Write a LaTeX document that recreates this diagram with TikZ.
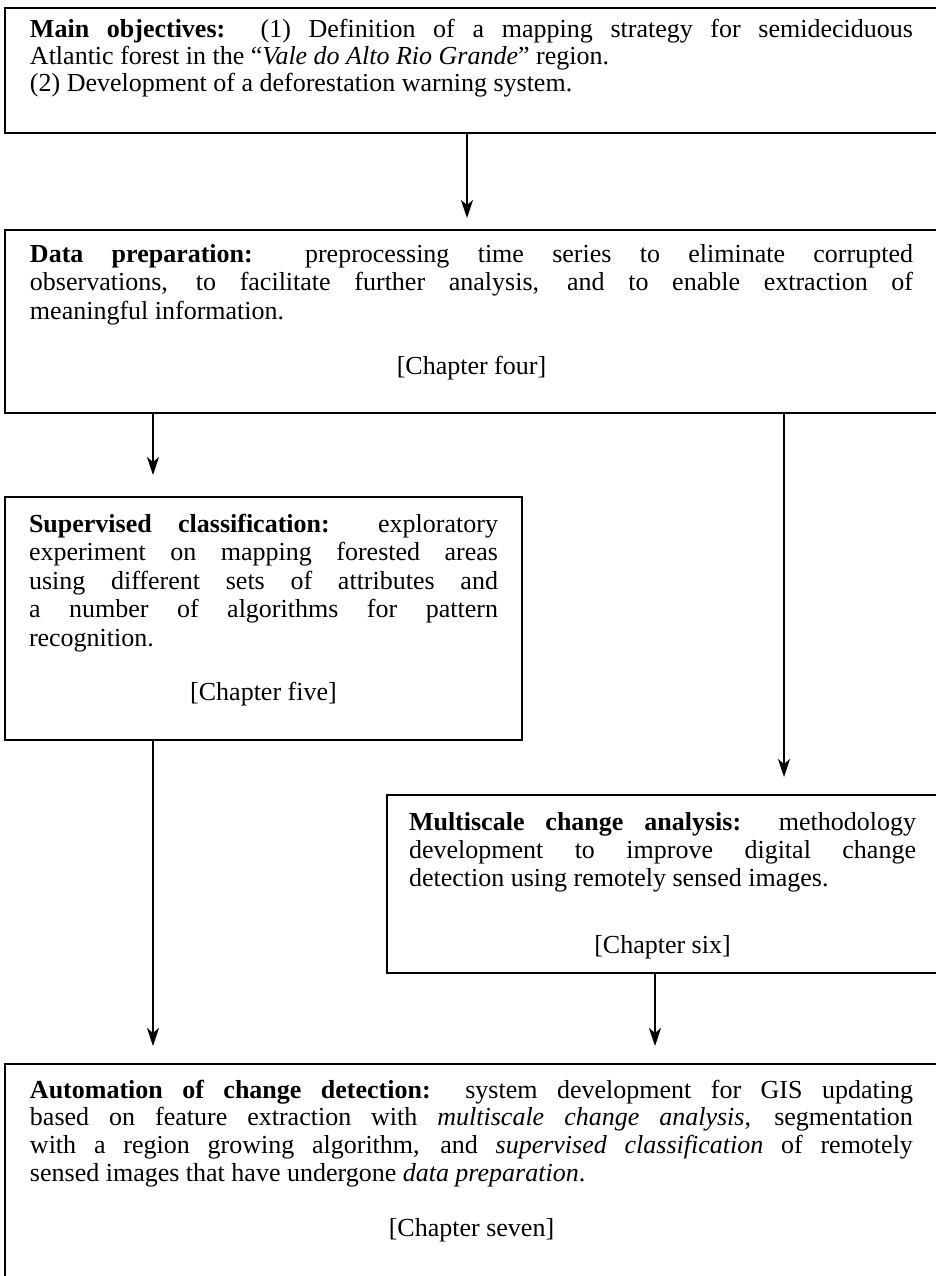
\documentclass[tikz,border=0pt]{standalone}
\usepackage{fontspec}
\setmainfont{Liberation Serif}
\usetikzlibrary{arrows.meta}
\tolerance=9999
\emergencystretch=2em
\hbadness=10000
\begin{document}
\begin{tikzpicture}[x=0.5pt,y=-0.5pt,
  box/.style={draw, line width=1.1pt, inner xsep=12.5pt, inner ysep=0pt, outer sep=0pt,
    anchor=north west, align=justify, font=\fontsize{13}{14.25}\selectfont},
  arr/.style={line width=0.9pt, -{Stealth[length=9pt,width=6pt,inset=2.5pt]}, shorten >=9pt}
]
\useasboundingbox (0,0) rectangle (936,1276);
\clip (0,0) rectangle (936,1276);

\node[box, font=\fontsize{13}{13.7}\selectfont, text width=441.5pt] (obj) at (5,8)
 {\rule{0pt}{14.5pt}\textbf{Main objectives:}\ \ (1) Definition of a mapping strategy for semideciduous\linebreak
  Atlantic forest in the “\textit{Vale do Alto Rio Grande}” region.\par
  (2) Development of a deforestation warning system.\rule[-20.4pt]{0pt}{0pt}};

\node[box, text width=441.5pt] (prep) at (5,230)
 {\rule{0pt}{16pt}\textbf{Data preparation:} preprocessing time series to eliminate corrupted\linebreak
  observations, to facilitate further analysis, and to enable extraction of\linebreak
  meaningful information.\par\vspace{13.25pt}
  \centerline{[Chapter four]\rule[-19.5pt]{0pt}{0pt}}};

\node[box, inner xsep=12pt, text width=234.5pt] (sup) at (5,497)
 {\rule{0pt}{17.5pt}\textbf{Supervised classification:} exploratory\linebreak
  experiment on mapping forested areas\linebreak
  using different sets of attributes and\linebreak
  a number of algorithms for pattern\linebreak
  recognition.\par\vspace{12.75pt}
  \centerline{[Chapter five]\rule[-20pt]{0pt}{0pt}}};

\node[box, font=\fontsize{13}{14}\selectfont, inner xsep=11pt, text width=253.5pt] (multi) at (387,795)
 {\rule{0pt}{17.5pt}\textbf{Multiscale change analysis:} methodology\linebreak
  development to improve digital change\linebreak
  detection using remotely sensed images.\par\vspace{19.5pt}
  \centerline{[Chapter six]\rule[-10pt]{0pt}{0pt}}};

\node[box, font=\fontsize{13}{13.9}\selectfont, text width=441.5pt] (auto) at (5,1064)
 {\rule{0pt}{17pt}\textbf{Automation of change detection:} system development for GIS updating\linebreak
  based on feature extraction with \textit{multiscale change analysis}, segmentation\linebreak
  with a region growing algorithm, and \textit{supervised classification} of remotely\linebreak
  sensed images that have undergone \textit{data preparation}.\par\vspace{13.4pt}
  \centerline{[Chapter seven]\rule[-27pt]{0pt}{0pt}}};

\coordinate (xa) at (467,0);
\coordinate (xl) at (153,0);
\coordinate (xr) at (784,0);
\coordinate (xm) at (655,0);

\draw[arr, shorten >=6pt] (obj.south -| xa) -- (prep.north -| xa);
\draw[arr, shorten >=11pt] (prep.south -| xl) -- (sup.north -| xl);
\draw[arr] (prep.south -| xr) -- (multi.north -| xr);
\draw[arr] (sup.south -| xl) -- (auto.north -| xl);
\draw[arr] (multi.south -| xm) -- (auto.north -| xm);
\end{tikzpicture}
\end{document}
